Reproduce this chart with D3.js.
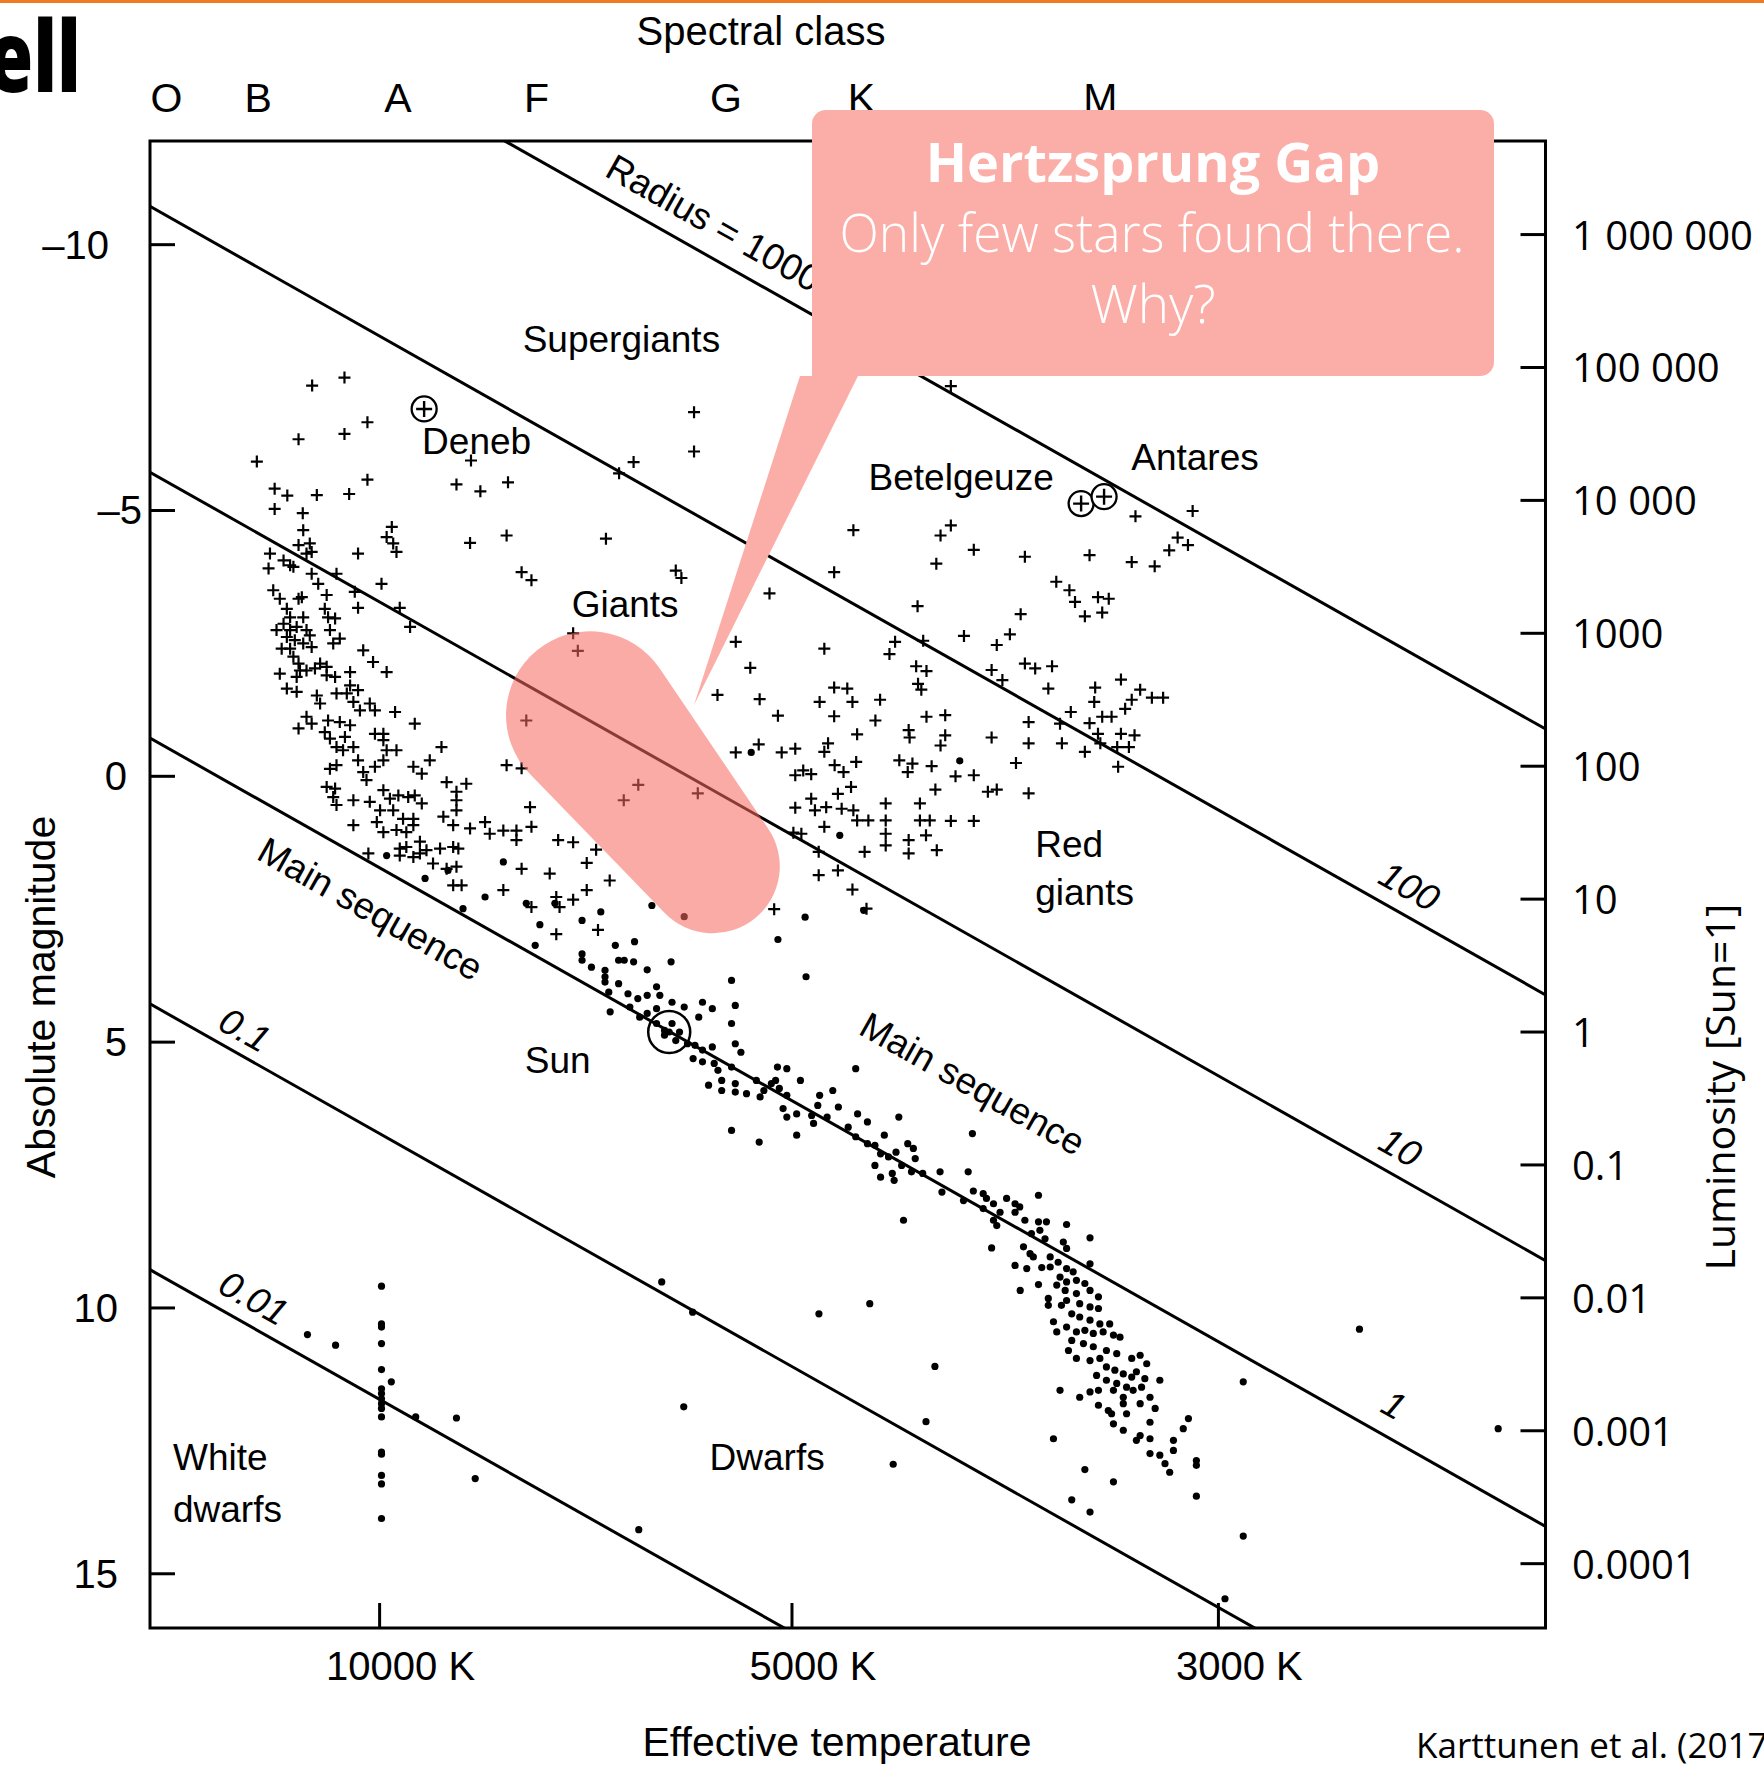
<!DOCTYPE html>
<html>
<head>
<meta charset="utf-8">
<script src="https://cdn.jsdelivr.net/npm/d3@7"></script>
<style>
  body { margin: 0; background: #fff; }
  svg { display: block; }
</style>
</head>
<body>
<svg id="chart" width="1764" height="1766"></svg>
<script>
// values are [B-V colour index, absolute magnitude]

var spectralClasses = ["O", "B", "A", "F", "G", "K", "M"];
var spectralBV = [-0.455, -0.259, 0.039, 0.335, 0.739, 1.028, 1.538];

var magTicks = [-10, -5, 0, 5, 10, 15];
var tempLabels = ["10000 K", "5000 K", "3000 K"];
var tempBV = [0, 0.88, 1.79];

var lumTicks = [1e6, 1e5, 1e4, 1000, 100, 10, 1, 0.1, 0.01, 0.001, 0.0001];
var lumLabels = ["1 000 000", "100 000", "10 000", "1000", "100", "10", "1", "0.1", "0.01", "0.001", "0.0001"];
var sunMag = 4.81;

var radiusNames = ["Radius = 1000", "100", "10", "1", "0.1", "0.01"];
var radiusStart = [[-0.49, -15.72], [-0.49, -10.72], [-0.49, -5.72], [-0.49, -0.72], [-0.49, 4.28], [-0.49, 9.28]];
var radiusEnd = [[2.49, -0.88], [2.49, 4.12], [2.49, 9.12], [2.49, 14.12], [2.49, 19.12], [2.49, 24.12]];

var namedStars = [
  {name: "Deneb", bv: 0.095, mag: -6.91},
  {name: "Betelgeuze", bv: 1.497, mag: -5.13},
  {name: "Antares", bv: 1.546, mag: -5.26}
];
var sunStar = [0.618, 4.81];

var supergiants = [[-0.144,-7.35],[-0.075,-7.50],[-0.026,-6.66],[-0.075,-6.44],[-0.173,-6.34],[-0.262,-5.92],[0.195,-5.94],[-0.026,-5.58],[-0.065,-5.31],[-0.134,-5.29],[-0.224,-5.41],[-0.197,-5.28],[-0.224,-5.03],[-0.164,-4.95],[0.164,-5.49],[0.215,-5.36],[0.274,-5.53],[0.671,-6.85],[0.671,-6.11],[0.542,-5.91],[0.511,-5.70],[1.219,-7.34],
  [0.483,-4.47],[0.632,-3.87],[0.644,-3.73],[0.832,-3.44],
  [1.011,-4.63],[1.197,-4.53],[1.219,-4.72],[1.268,-4.26],[1.188,-4.00],[1.377,-4.13],[1.515,-4.16],[1.613,-4.89],[1.735,-4.99],[1.605,-4.03],[1.654,-3.95],[1.685,-4.25],[1.703,-4.49],[1.725,-4.35],[0.970,-3.84],[1.444,-3.66],[1.472,-3.50],[1.484,-3.28],[1.505,-3.01],[1.533,-3.37],[1.556,-3.34],[1.542,-3.08],[1.368,-3.05],[1.148,-3.20]];

var blueGiants = [[-0.163,-4.63],[0.026,-4.69],[0.015,-4.50],[0.029,-4.38],[0.036,-4.22],[0.193,-4.39],[0.271,-4.53],[-0.173,-4.35],[-0.149,-4.38],[-0.156,-4.19],[-0.145,-4.22],
  [-0.234,-4.19],[-0.237,-3.91],[-0.205,-4.06],[-0.191,-3.97],[-0.184,-3.94],[-0.145,-3.81],[-0.092,-3.81],[-0.046,-4.19],[0.004,-3.62],[0.303,-3.84],[0.324,-3.69],[-0.131,-3.62],
  [-0.227,-3.50],[-0.213,-3.34],[-0.173,-3.34],[-0.166,-3.37],[-0.113,-3.41],[-0.053,-3.47],[-0.046,-3.17],[0.043,-3.17],[0.065,-2.81],[-0.198,-3.15],[-0.117,-3.15],[-0.110,-2.99],[-0.095,-2.97],[-0.191,-2.99],[-0.163,-2.99],
  [-0.220,-2.75],[-0.205,-2.87],[-0.191,-2.75],[-0.177,-2.81],[-0.156,-2.75],[-0.198,-2.62],[-0.181,-2.56],[-0.163,-2.50],[-0.149,-2.65],[-0.106,-2.75],[-0.085,-2.59],[-0.099,-2.50],[-0.209,-2.40],[-0.191,-2.40],[-0.145,-2.43],[-0.035,-2.37],[-0.014,-2.15],[0.015,-1.96],
  [-0.184,-2.25],[-0.173,-2.12],[-0.170,-1.99],[-0.156,-1.99],[-0.138,-2.03],[-0.127,-2.12],[-0.113,-2.06],[-0.213,-1.93],[-0.177,-1.87],[-0.113,-1.90],[-0.095,-1.87],[-0.063,-1.96],[-0.063,-1.71],
  [-0.198,-1.65],[-0.177,-1.59],[-0.134,-1.52],[-0.092,-1.56],[-0.070,-1.56],[-0.046,-1.62],[-0.056,-1.40],[-0.127,-1.37],[-0.042,-1.24],[-0.021,-1.37],[-0.010,-1.24],[0.033,-1.21],[0.075,-0.99],[-0.156,-1.12],[-0.173,-0.90],[-0.145,-0.99],[-0.110,-1.05],[-0.085,-1.02],[-0.063,-0.96],
  [-0.117,-0.83],[-0.106,-0.71],[-0.092,-0.55],[-0.078,-0.49],[-0.056,-0.55],[-0.074,-0.74],[-0.010,-0.80],[0.008,-0.80],[0.008,-0.68],[0.015,-0.49],[0.036,-0.49],[0.132,-0.55],[0.313,-1.05],
  [-0.106,-0.14],[-0.092,-0.21],[-0.046,-0.30],[-0.035,-0.08],[-0.028,0.07],[-0.010,-0.18],[0.008,-0.30],[0.072,-0.18],[0.090,-0.05],[0.107,-0.30],[0.143,0.11],[0.164,0.29],[0.185,0.14],[0.271,-0.21],[0.303,-0.15],[-0.113,0.20],[-0.095,0.23],[-0.099,0.39],
  [-0.092,0.54],[-0.056,0.45],[-0.021,0.48],[0.008,0.26],[0.022,0.42],[0.040,0.36],[0.061,0.39],[0.075,0.36],[0.090,0.51],[0.164,0.45],[0.164,0.64],[0.321,0.58],[0.001,0.64],[0.029,0.64],[0.050,0.80],[0.072,0.80],[0.136,0.76],
  [-0.056,0.92],[-0.006,0.86],[0.008,1.05],[0.036,1.01],[0.057,1.05],[0.072,0.92],[0.157,0.92],[0.193,0.98],[0.225,0.86],[0.235,1.08],[0.264,1.02],[0.292,1.02],[0.292,1.20],[0.324,0.95],[0.381,1.20],[0.043,1.36],[0.057,1.33],[0.086,1.23],[0.100,1.39],[0.129,1.36],[0.157,1.33],[0.168,1.36],[-0.024,1.45],
  [0.043,1.49],[0.072,1.52],[0.086,1.45],[0.114,1.64],[0.143,1.74],[0.164,1.70],[0.303,1.74],[0.363,1.83],[0.157,2.05],[0.175,2.05],[0.264,2.14],
  [0.377,2.27],[0.384,2.46],[0.324,2.46]];

var gapGiants = [[0.413,-2.69],[0.423,-2.36],[0.552,0.16],[0.521,0.45],[0.679,0.32],
  [0.413,1.24],[0.442,1.63],[0.462,1.38],[0.413,2.32],[0.442,2.14],[0.491,1.96],[0.466,2.89],[0.377,2.97],
  [0.760,-2.53],[0.791,-2.04],[0.721,-1.53],[0.811,-1.45],[0.850,-1.14],[0.760,-0.45],[0.809,-0.60],[0.858,-0.45],[0.887,-0.52],[0.887,-0.02],[0.887,0.59],[0.842,2.50],[0.883,1.06]];

var redGiants = [[1.100,-2.53],[1.088,-2.30],[1.160,-2.55],[1.145,-2.07],[1.167,-1.98],[1.149,-1.74],[1.156,-1.63],[0.949,-2.40],[1.306,-2.00],[1.329,-1.81],[1.377,-2.12],[1.399,-2.03],[1.435,-2.07],[1.427,-1.65],[1.527,-1.67],[1.525,-1.40],[1.582,-1.82],[1.623,-1.63],[1.648,-1.48],[1.672,-1.48],[1.605,-1.44],[1.591,-1.27],[1.475,-1.21],[1.452,-0.99],[1.515,-1.00],[1.542,-1.12],[1.562,-1.12],[1.533,-0.80],[1.582,-0.80],[1.611,-0.77],[1.456,-0.62],[1.505,-0.46],[1.538,-0.62],[1.574,-0.55],[1.599,-0.55],[1.576,-0.18],[1.385,-1.02],[1.385,-0.62],[1.306,-0.73],[1.358,-0.25],[1.345,-2.67],[1.317,-2.47],[1.247,-2.64],
  [0.970,-1.67],[0.998,-1.65],[0.939,-1.40],[1.009,-1.40],[0.970,-1.13],[1.068,-1.44],[1.058,-1.05],[1.019,-0.79],[1.129,-0.87],[1.131,-0.73],[1.167,-1.12],[1.207,-1.15],[1.207,-0.77],[1.197,-0.58],[0.957,-0.62],[0.949,-0.46],[1.017,-0.27],[0.971,-0.21],[0.990,-0.08],[1.109,-0.30],[1.137,-0.24],[1.127,-0.08],[1.178,-0.19],[1.229,0.00],[1.268,-0.02],[1.186,0.25],[1.298,0.29],[1.317,0.25],[1.385,0.32],
  [0.904,-0.11],[0.921,-0.04],[0.921,0.42],[0.929,0.64],[0.953,0.58],[0.978,0.33],[0.986,0.61],[1.006,0.20],[1.011,0.64],[1.019,0.83],[1.043,0.83],[1.080,0.51],[1.080,0.83],[1.080,1.08],[1.080,1.30],[1.035,1.42],[1.129,1.20],[1.129,1.45],[1.153,0.51],[1.153,0.83],[1.174,0.83],[1.166,1.11],[1.189,1.39],[1.219,0.84],[1.268,0.84],[0.949,0.95],[0.937,1.42],[0.937,1.86],[0.978,1.77],[1.009,2.13],[1.039,2.49],[0.900,1.08]];

var mainSequence = [[0.015,1.49],[0.146,1.77],[0.097,1.92],[0.264,1.61],[0.225,2.27],[0.313,2.39],[0.374,2.39],[0.178,2.49],
  [0.432,2.71],[0.472,2.55],[0.581,2.43],[0.650,2.64],[0.342,2.79],[0.503,3.18],[0.544,3.11],[0.332,3.18],[0.850,3.07],[0.793,-0.45],
  [1.238,-0.29],[0.982,1.11],[0.908,2.65],[1.033,2.52],
  [0.432,3.34],[0.432,3.46],[0.452,3.59],[0.481,3.65],[0.481,3.77],[0.481,3.87],[0.510,3.90],[0.510,3.46],[0.522,3.46],[0.542,3.49],[0.571,3.64],[0.622,3.49],[0.489,4.06],[0.530,4.09],[0.551,4.18],[0.571,4.12],[0.591,3.96],[0.598,4.12],[0.534,4.34],[0.555,4.53],[0.571,4.46],[0.591,4.37],[0.624,4.25],[0.650,4.34],[0.492,4.43],[0.689,4.25],[0.710,4.37],[0.681,4.53],[0.751,3.84],[0.759,4.31],[0.751,4.65],[0.759,5.03],[0.771,5.19],[0.910,3.77],[0.591,4.65],[0.608,4.78],[0.624,4.65],[0.640,4.81],[0.632,4.97],[0.608,4.87],[0.657,5.03],[0.673,5.06],[0.689,5.15],[0.710,5.09],[0.669,5.31],[0.689,5.37],[0.714,5.40],[0.722,5.53],[0.730,5.72],[0.751,5.47],[0.702,5.81],[0.730,5.91],[0.759,5.78],[0.783,5.97],[0.759,5.94],[0.804,5.72],[0.820,5.91],[0.812,6.03],[0.836,5.78],[0.849,5.47],[0.869,5.50],[0.845,5.72],[0.853,5.87],[0.869,6.00],[0.861,6.25],[0.869,6.41],[0.890,6.35],[0.898,5.72],[0.939,6.00],[0.935,6.19],[0.922,6.38],[0.955,6.41],[0.967,5.91],[0.979,6.22],[1.016,5.50],[1.020,6.35],[1.041,6.50],[1.000,6.60],[1.016,6.78],[1.041,6.91],[1.077,6.75],[1.108,6.41],[1.057,6.94],[1.069,7.10],[1.086,7.16],[1.102,7.07],[1.127,6.91],[1.139,7.00],[1.143,7.19],[1.114,7.32],[1.135,7.44],[1.159,7.47],[1.057,7.32],[1.069,7.54],[1.094,7.47],[1.098,7.60],[1.196,7.44],[1.265,6.72],[1.200,7.82],[0.751,6.66],[0.810,6.88],[0.890,6.75],[0.926,6.53],[1.118,8.35],[0.602,9.51]];

var redDwarfs = [[1.256,7.44],[1.267,7.80],[1.246,7.98],[1.288,7.85],[1.295,7.94],[1.288,8.13],[1.310,8.04],[1.324,8.20],[1.310,8.35],[1.317,8.45],[1.338,7.94],[1.356,8.04],[1.356,8.20],[1.366,8.10],[1.377,8.35],[1.406,7.88],[1.406,8.38],[1.423,8.38],[1.391,8.60],[1.409,8.54],[1.420,8.70],[1.466,8.43],[1.459,8.76],[1.466,8.88],[1.516,8.68],[1.306,8.87],[1.374,8.85],[1.388,8.98],[1.395,9.04],[1.356,9.20],[1.381,9.26],[1.413,9.24],[1.431,9.04],[1.431,9.23],[1.448,9.14],[1.466,9.26],[1.480,9.32],[1.452,9.42],[1.466,9.51],[1.487,9.48],[1.505,9.54],[1.516,9.17],[1.406,9.56],[1.367,9.67],[1.445,9.57],[1.463,9.67],[1.487,9.73],[1.516,9.67],[1.534,9.79],[1.427,9.82],[1.427,9.95],[1.455,9.95],[1.466,9.86],[1.494,9.92],[1.516,9.98],[1.534,10.01],[1.477,10.11],[1.494,10.17],[1.516,10.23],[1.537,10.30],[1.558,10.30],[1.438,10.26],[1.445,10.45],[1.466,10.36],[1.487,10.45],[1.505,10.42],[1.523,10.48],[1.544,10.45],[1.566,10.51],[1.580,10.55],[1.477,10.61],[1.502,10.67],[1.523,10.73],[1.551,10.80],[1.573,10.86],[1.470,10.80],[1.487,10.95],[1.516,10.99],[1.537,10.95],[1.551,11.11],[1.569,11.17],[1.587,11.24],[1.605,10.95],[1.623,10.89],[1.637,11.05],[1.530,11.27],[1.551,11.36],[1.573,11.42],[1.594,11.49],[1.605,11.30],[1.615,11.20],[1.633,11.33],[1.665,11.36],[1.452,11.55],[1.494,11.68],[1.516,11.58],[1.534,11.55],[1.566,11.55],[1.587,11.68],[1.608,11.55],[1.626,11.49],[1.644,11.68],[1.534,11.83],[1.555,11.93],[1.587,11.80],[1.594,11.99],[1.623,11.80],[1.655,11.89],[1.562,11.99],[1.566,12.18],[1.587,12.30],[1.615,12.49],[1.644,12.15],[1.644,12.46],[1.623,12.40],[1.644,12.74],[1.665,12.77],[1.676,12.93],[1.686,13.09],[1.694,12.49],[1.694,12.68],[1.715,12.27],[1.726,12.08],[1.743,12.87],[1.743,12.96],[1.438,12.46],[1.505,13.04],[1.566,13.27],[1.477,13.61],[1.516,13.84],[1.743,13.54],[1.843,11.39],[1.843,14.29],[1.804,15.47]];

var fieldDwarfs = [[0.9375,10.11],[1.046,9.92],[1.185,11.10],[1.166,12.14],[1.096,12.94],[0.649,11.86],[0.668,10.08],[0.553,14.17],[2.091,10.40],[2.387,12.27]];

var whiteDwarfs = [[0.004,9.59],[0.004,10.30],[0.004,10.36],[0.004,10.67],[0.004,11.16],[0.004,11.52],[0.004,11.61],[0.004,11.71],[0.004,11.80],[0.004,11.89],[0.004,12.05],[0.004,12.71],[0.004,12.75],[0.004,13.15],[0.004,13.31],[0.004,13.96],
  [-0.154,10.50],[-0.094,10.70],[0.025,11.39],[0.077,12.05],[0.164,12.07],[0.204,13.21]];

// annotation anchors (data space)
var regionLabels = [
  {text: "Supergiants", bv: 0.516, mag: -7.99, anchor: "middle"},
  {text: "Deneb", bv: 0.207, mag: -6.06, anchor: "middle"},
  {text: "Giants", bv: 0.524, mag: -2.99, anchor: "middle"},
  {text: "Betelgeuze", bv: 1.241, mag: -5.38, anchor: "middle"},
  {text: "Antares", bv: 1.740, mag: -5.76, anchor: "middle"},
  {text: "Red", bv: 1.399, mag: 1.52, anchor: "start"},
  {text: "giants", bv: 1.399, mag: 2.43, anchor: "start"},
  {text: "Sun", bv: 0.380, mag: 5.59, anchor: "middle"},
  {text: "White", bv: -0.441, mag: 13.05, anchor: "start"},
  {text: "dwarfs", bv: -0.441, mag: 14.03, anchor: "start"},
  {text: "Dwarfs", bv: 0.827, mag: 13.04, anchor: "middle"}
];
var slantLabels = [
  {text: "Main sequence", bv: -0.266, mag: 1.543},
  {text: "Main sequence", bv: 1.019, mag: 4.834}
];
var radiusLabelPos = [[0.477, -11.306], [2.127, 1.994], [2.127, 6.998], [2.132, 11.94], [-0.349, 4.74], [-0.349, 9.688]];
var gapBlob = [[0.449, -1.147], [0.711, 1.693]];

// ---------------- drawing ----------------
var W = 1764, H = 1766;
var plot = {left: 150, right: 1545.5, top: 141, bottom: 1628};
var chartFont = "'Liberation Sans', Arial, Helvetica, sans-serif";
var slideFont = "'Open Sans', 'Noto Sans', sans-serif";

var svg = d3.select("#chart");

var x = d3.scaleLinear().domain([-0.49, 2.488]).range([plot.left, plot.right]);
var y = d3.scaleLinear().domain([-11.95, 16.02]).range([plot.top, plot.bottom]);
var lum = d3.scaleLog().domain([1e6, 1e-4]).range([y(sunMag - 15), y(sunMag + 10)]);

// slide decoration
svg.append("rect").attr("x", 0).attr("y", 0).attr("width", W).attr("height", 3).attr("fill", "#ef7a22");
svg.append("text")
  .attr("transform", "translate(81,92) scale(0.74,1)")
  .attr("text-anchor", "end")
  .style("font-family", slideFont).style("font-weight", 800).style("font-size", "100px")
  .text("Hertzsprung-Russell");

svg.append("clipPath").attr("id", "plotclip")
  .append("rect").attr("x", plot.left).attr("y", plot.top)
  .attr("width", plot.right - plot.left).attr("height", plot.bottom - plot.top);

// constant radius lines
var lineG = svg.append("g").attr("clip-path", "url(#plotclip)");
radiusStart.forEach(function(s, i) {
  var e = radiusEnd[i];
  lineG.append("line")
    .attr("x1", x(s[0])).attr("y1", y(s[1]))
    .attr("x2", x(e[0])).attr("y2", y(e[1]))
    .attr("stroke", "#000").attr("stroke-width", 3);
});
var slope = Math.atan2(y(radiusEnd[0][1]) - y(radiusStart[0][1]), x(radiusEnd[0][0]) - x(radiusStart[0][0])) * 180 / Math.PI;

// stars
var plusStars = supergiants.concat(blueGiants, gapGiants, redGiants);
svg.append("g").selectAll("path").data(plusStars).join("path")
  .attr("transform", function(d) { return "translate(" + x(d[0]) + "," + y(d[1]) + ")"; })
  .attr("d", "M-6,0H6M0,-6V6")
  .attr("stroke", "#000").attr("stroke-width", 2.2).attr("fill", "none");

var dotStars = mainSequence.concat(redDwarfs, fieldDwarfs, whiteDwarfs);
svg.append("g").selectAll("circle").data(dotStars).join("circle")
  .attr("cx", function(d) { return x(d[0]); })
  .attr("cy", function(d) { return y(d[1]); })
  .attr("r", 3.6).attr("fill", "#000");

// named stars
var named = svg.append("g").selectAll("g").data(namedStars).join("g")
  .attr("transform", function(d) { return "translate(" + x(d.bv) + "," + y(d.mag) + ")"; });
named.append("circle").attr("r", 12.5).attr("fill", "#fff").attr("stroke", "#000").attr("stroke-width", 2.3);
named.append("path").attr("d", "M-8,0H8M0,-8V8").attr("stroke", "#000").attr("stroke-width", 2.4);

svg.append("circle").attr("cx", x(sunStar[0])).attr("cy", y(sunStar[1])).attr("r", 21)
  .attr("fill", "none").attr("stroke", "#000").attr("stroke-width", 2.5);
svg.append("circle").attr("cx", x(sunStar[0])).attr("cy", y(sunStar[1])).attr("r", 3.5).attr("fill", "#000");

// region labels
svg.append("g").selectAll("text").data(regionLabels).join("text")
  .attr("x", function(d) { return x(d.bv); })
  .attr("y", function(d) { return y(d.mag); })
  .attr("text-anchor", function(d) { return d.anchor; })
  .style("font-family", chartFont).style("font-size", "37px")
  .text(function(d) { return d.text; });

svg.append("g").selectAll("text").data(slantLabels).join("text")
  .attr("transform", function(d) { return "translate(" + x(d.bv) + "," + y(d.mag) + ") rotate(" + slope + ")"; })
  .style("font-family", chartFont).style("font-size", "37px")
  .text(function(d) { return d.text; });

svg.append("g").selectAll("text").data(radiusNames).join("text")
  .attr("transform", function(d, i) { return "translate(" + x(radiusLabelPos[i][0]) + "," + y(radiusLabelPos[i][1]) + ") rotate(" + slope + ")"; })
  .style("font-family", chartFont).style("font-size", "37px")
  .style("font-style", function(d, i) { return i === 0 ? "normal" : "italic"; })
  .text(function(d) { return d; });

// frame
svg.append("rect").attr("x", plot.left).attr("y", plot.top)
  .attr("width", plot.right - plot.left).attr("height", plot.bottom - plot.top)
  .attr("fill", "none").attr("stroke", "#000").attr("stroke-width", 3);

// left axis: absolute magnitude
var magRight = {"-10": 109, "-5": 142, "0": 127, "5": 127, "10": 118, "15": 118};
magTicks.forEach(function(m) {
  svg.append("line").attr("x1", plot.left).attr("x2", plot.left + 25)
    .attr("y1", y(m)).attr("y2", y(m)).attr("stroke", "#000").attr("stroke-width", 3);
  svg.append("text").attr("x", magRight[String(m)]).attr("y", y(m) + 14)
    .attr("text-anchor", "end")
    .style("font-family", chartFont).style("font-size", "40px")
    .text(m < 0 ? "\u2013" + Math.abs(m) : String(m));
});

// bottom axis: temperature
tempBV.forEach(function(b, i) {
  svg.append("line").attr("x1", x(b)).attr("x2", x(b))
    .attr("y1", plot.bottom).attr("y2", plot.bottom - 25).attr("stroke", "#000").attr("stroke-width", 3);
  svg.append("text").attr("x", x(b) + 21).attr("y", 1680).attr("text-anchor", "middle")
    .style("font-family", chartFont).style("font-size", "40px")
    .text(tempLabels[i]);
});

// top: spectral classes
svg.append("g").selectAll("text").data(spectralClasses).join("text")
  .attr("x", function(d, i) { return x(spectralBV[i]); })
  .attr("y", 112).attr("text-anchor", "middle")
  .style("font-family", chartFont).style("font-size", "41px")
  .text(function(d) { return d; });

// right axis: luminosity
lumTicks.forEach(function(L, i) {
  svg.append("line").attr("x1", plot.right - 25).attr("x2", plot.right)
    .attr("y1", lum(L)).attr("y2", lum(L)).attr("stroke", "#000").attr("stroke-width", 3);
  svg.append("text").attr("x", 1572).attr("y", lum(L) + 15)
    .style("font-family", slideFont).style("font-size", "40px")
    .text(lumLabels[i]);
});

// axis titles
svg.append("text").attr("x", 761).attr("y", 45).attr("text-anchor", "middle")
  .style("font-family", chartFont).style("font-size", "40px").text("Spectral class");
svg.append("text").attr("x", 837).attr("y", 1756).attr("text-anchor", "middle")
  .style("font-family", chartFont).style("font-size", "41px").text("Effective temperature");
svg.append("text").attr("transform", "translate(55,997) rotate(-90)").attr("text-anchor", "middle")
  .style("font-family", chartFont).style("font-size", "41px").text("Absolute magnitude");
svg.append("text").attr("transform", "translate(1735,1087) rotate(-90)").attr("text-anchor", "middle")
  .style("font-family", slideFont).style("font-size", "41px").text("Luminosity [Sun=1]");
svg.append("text").attr("x", 1416).attr("y", 1758)
  .style("font-family", slideFont).style("font-size", "35px").text("Karttunen et al. (2017)");

// ---------------- callout ----------------
var pink = "#fbada7";
svg.append("path").attr("d", "M800,376L858,376L694,705Z").attr("fill", pink);

function capsulePath(p1, r1, p2, r2) {
  var dx = p2[0] - p1[0], dy = p2[1] - p1[1], d = Math.hypot(dx, dy);
  var phi = Math.atan2(dy, dx), beta = Math.acos((r1 - r2) / d);
  var a1 = phi + beta, a2 = phi - beta;
  var t1a = [p1[0] + r1 * Math.cos(a1), p1[1] + r1 * Math.sin(a1)];
  var t2a = [p2[0] + r2 * Math.cos(a1), p2[1] + r2 * Math.sin(a1)];
  var t2b = [p2[0] + r2 * Math.cos(a2), p2[1] + r2 * Math.sin(a2)];
  var t1b = [p1[0] + r1 * Math.cos(a2), p1[1] + r1 * Math.sin(a2)];
  return "M" + t1a + "L" + t2a + "A" + r2 + "," + r2 + " 0 0 0 " + t2b +
         "L" + t1b + "A" + r1 + "," + r1 + " 0 1 0 " + t1a + "Z";
}
var b1 = [x(gapBlob[0][0]), y(gapBlob[0][1])], b2 = [x(gapBlob[1][0]), y(gapBlob[1][1])];
svg.append("path").attr("d", capsulePath(b1, 84, b2, 67))
  .attr("fill", "rgb(248,106,97)").attr("fill-opacity", 0.56);

svg.append("rect").attr("x", 812).attr("y", 110).attr("width", 682).attr("height", 266)
  .attr("rx", 14).attr("fill", pink);
// square off the corner where the pointer joins the box
svg.append("rect").attr("x", 812).attr("y", 350).attr("width", 40).attr("height", 26).attr("fill", pink);

svg.append("text").attr("x", 1153).attr("y", 182).attr("text-anchor", "middle")
  .style("font-family", slideFont).style("font-weight", 700).style("font-size", "54px")
  .attr("fill", "#fff").text("Hertzsprung Gap");
svg.append("text").attr("x", 1152).attr("y", 252).attr("text-anchor", "middle")
  .attr("textLength", 625).attr("lengthAdjust", "spacingAndGlyphs")
  .style("font-family", slideFont).style("font-weight", 300).style("font-size", "53px")
  .attr("fill", "#fff").text("Only few stars found there.");
svg.append("text").attr("x", 1153).attr("y", 323).attr("text-anchor", "middle")
  .style("font-family", slideFont).style("font-weight", 300).style("font-size", "53px")
  .attr("fill", "#fff").text("Why?");
</script>
</body>
</html>
